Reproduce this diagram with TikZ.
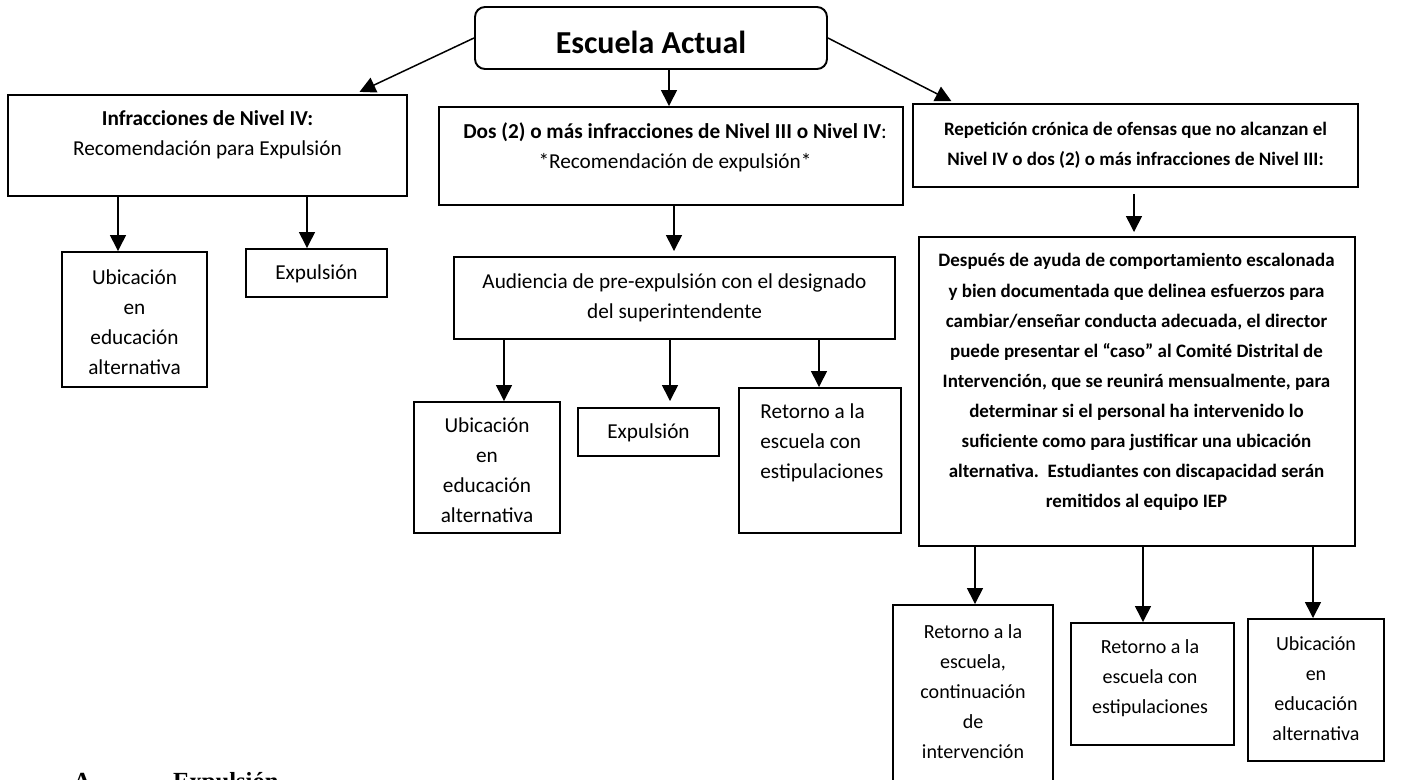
\documentclass[tikz,border=0pt]{standalone}
\usepackage{fontspec}
\setmainfont{Carlito}
\newfontfamily\seriftit{Liberation Serif}
\usetikzlibrary{arrows.meta,fit}

\tikzset{
  caja/.style={draw, line width=1.1pt, inner sep=0pt},
  texto/.style={align=center, inner sep=0pt, font=\fontsize{12.1}{17.1}\selectfont},
  chico/.style={texto, font=\fontsize{11.4}{17.1}\selectfont},
  negrita/.style={texto, font=\fontsize{10.8}{17.1}\selectfont\bfseries},
  flecha/.style={line width=0.85pt, -{Triangle[length=0.32cm,width=0.32cm]}},
}

\begin{document}
\begin{tikzpicture}[x=0.02cm, y=-0.02cm]
    \useasboundingbox (0,0) rectangle (1427,780);

    % raiz
    \node[caja, rounded corners=0.2cm, fit={(475,7) (827,69)}] (esc) {};
    \node[inner sep=0pt, font=\fontsize{18.2}{22}\selectfont\bfseries] (escT) at (651,42) {Escuela Actual};

    % columna izquierda
    \node[caja, fit={(8,95) (407,196)}] (inf) {};
    \node[texto] (infT) at (207.5,135) {\textbf{Infracciones de Nivel IV:}\\Recomendación para Expulsión};
    \node[caja, fit={(62,252) (207,387)}] (ubiL) {};
    \node[texto] (ubiLT) at (134.5,322) {Ubicación\\en\\educación\\alternativa};
    \node[caja, fit={(246,249) (387,297)}] (expL) {};
    \node[texto] (expLT) at (316.5,274) {Expulsión};

    % columna central
    \node[caja, fit={(439,107) (903,205)}] (dos) {};
    \node[texto] (dosT) at (675,147) {\textbf{Dos (2) o más infracciones de Nivel III o Nivel IV}:\\*Recomendación de expulsión*};
    \node[caja, fit={(454,257) (895,339)}] (aud) {};
    \node[texto] (audT) at (674.5,298) {Audiencia de pre-expulsión con el designado\\del superintendente};
    \node[caja, fit={(414,402) (560,533)}] (ubiM) {};
    \node[texto] (ubiMT) at (487,470) {Ubicación\\en\\educación\\alternativa};
    \node[caja, fit={(578,408) (719,456)}] (expM) {};
    \node[texto] (expMT) at (648.5,433) {Expulsión};
    \node[caja, fit={(739,388) (901,533)}] (retM) {};
    \node[texto, align=left, anchor=west] (retMT) at (760,443) {Retorno a la\\escuela con\\estipulaciones};

    % columna derecha
    \node[caja, fit={(913,104) (1358,187)}] (rep) {};
    \node[negrita] (repT) at (1135.5,145) {Repetición crónica de ofensas que no alcanzan el\\Nivel IV o dos (2) o más infracciones de Nivel III:};
    \node[caja, fit={(919,237) (1355,546)}] (desp) {};
    \node[negrita] (despT) at (1136.5,382) {Después de ayuda de comportamiento escalonada\\y bien documentada que delinea esfuerzos para\\cambiar/enseñar conducta adecuada, el director\\puede presentar el “caso” al Comité Distrital de\\Intervención, que se reunirá mensualmente, para\\determinar si el personal ha intervenido lo\\suficiente como para justificar una ubicación\\alternativa.\ \ Estudiantes con discapacidad serán\\remitidos al equipo IEP};
    \node[caja, fit={(893,605) (1053,792)}] (retA) {};
    \node[chico] (retAT) at (973,692) {Retorno a la\\escuela,\\continuación\\de\\intervención};
    \node[caja, fit={(1071,623) (1234,745)}] (retB) {};
    \node[chico] (retBT) at (1150,678.5) {Retorno a la\\escuela con\\estipulaciones};
    \node[caja, fit={(1248,619) (1384,761)}] (ubiR) {};
    \node[chico] (ubiRT) at (1316,689) {Ubicación\\en\\educación\\alternativa};

    % flechas
    \draw[flecha, shorten >=0.1cm] (esc.west) -- (355,0 |- inf.north);
    \draw[flecha] (669,0 |- esc.south) -- (669,0 |- dos.north);
    \draw[flecha, shorten >=0.08cm] (esc.east) -- (955,0 |- rep.north);

    \draw[flecha] (118,0 |- inf.south) -- (118,0 |- ubiL.north);
    \draw[flecha] (307,0 |- inf.south) -- (307,0 |- expL.north);

    \draw[flecha, shorten >=0.1cm] (674,0 |- dos.south) -- (674,0 |- aud.north);
    \draw[flecha] (504,0 |- aud.south) -- (504,0 |- ubiM.north);
    \draw[flecha, shorten >=0.12cm] (670,0 |- aud.south) -- (670,0 |- expM.north);
    \draw[flecha] (819,0 |- aud.south) -- (819,0 |- retM.north);

    \draw[flecha, shorten <=0.12cm, shorten >=0.08cm] (1134,0 |- rep.south) -- (1134,0 |- desp.north);
    \draw[flecha] (975,0 |- desp.south) -- (975,0 |- retA.north);
    \draw[flecha] (1143,0 |- desp.south) -- (1143,0 |- retB.north);
    \draw[flecha] (1313,0 |- desp.south) -- (1313,0 |- ubiR.north);

    % titulo cortado abajo
    \node[inner sep=0pt, anchor=base west, font=\seriftit\fontsize{14}{16}\selectfont\bfseries] (secc) at (73,789) {A.\hspace{1.52cm}Expulsión};
\end{tikzpicture}
\end{document}
